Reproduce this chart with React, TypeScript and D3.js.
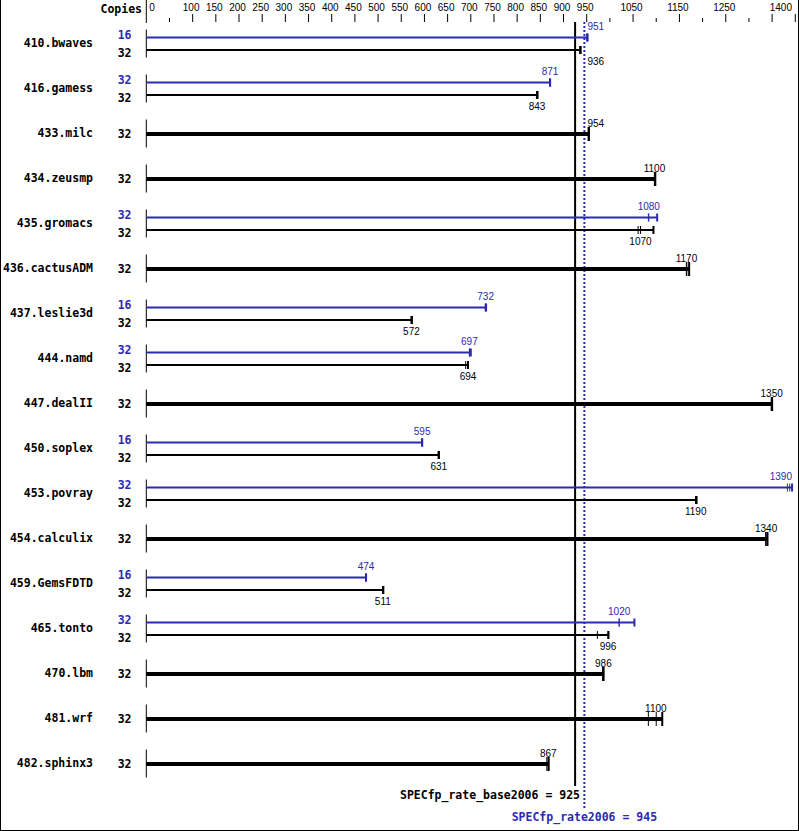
import React from "react";
import * as d3 from "d3";

const benchmarks = [
  "410.bwaves", "416.gamess", "433.milc", "434.zeusmp", "435.gromacs",
  "436.cactusADM", "437.leslie3d", "444.namd", "447.dealII", "450.soplex",
  "453.povray", "454.calculix", "459.GemsFDTD", "465.tonto", "470.lbm",
  "481.wrf", "482.sphinx3",
];

const peakCopies: (number | null)[] = [16, 32, null, null, 32, null, 16, 32, null, 16, 32, null, 16, 32, null, null, null];
const baseCopies: number[] = [32, 32, 32, 32, 32, 32, 32, 32, 32, 32, 32, 32, 32, 32, 32, 32, 32];

const peakRuns: (number[] | null)[] = [
  [950, 951, 952],
  [870, 871, 871],
  null,
  null,
  [1083, 1084, 1102],
  null,
  [731, 732, 733],
  [697, 697, 700],
  null,
  [594, 595, 595],
  [1383, 1388, 1393],
  null,
  [473, 474, 474],
  [1020, 1020, 1053],
  null,
  null,
  null,
];

const baseRuns: number[][] = [
  [935, 936, 937],
  [842, 843, 844],
  [953, 954, 955],
  [1096, 1097, 1098],
  [1061, 1066, 1094],
  [1165, 1166, 1171],
  [571, 572, 573],
  [689, 694, 694],
  [1348, 1349, 1350],
  [630, 631, 631],
  [1185, 1186, 1187],
  [1336, 1337, 1340],
  [510, 511, 511],
  [973, 996, 997],
  [985, 986, 986],
  [1083, 1100, 1113],
  [864, 867, 868],
];

const axisTicks = d3.range(0, 1401, 50);
const axisLabels = [0, 100, 150, 200, 250, 300, 350, 400, 450, 500, 550, 600, 650, 700, 750, 800, 850, 900, 950, 1050, 1150, 1250, 1400];
const longTicks = [...axisLabels, 1350];

const baseScore = 925;
const peakScore = 945;

const BLUE = "#2b2bb0";
const BOLD = "'DejaVu Sans Mono', monospace";
const THIN = "'Liberation Sans', Arial, sans-serif";

export default function App() {
  const W = 799, H = 831;
  const x = d3.scaleLinear().domain([0, 1400]).range([146.3, 795.3]);
  const y = d3.scalePoint<string>().domain(benchmarks).range([43.5, 763.5]);
  const fmt = d3.format(".3r");
  const charW = 5.56;
  const xBase = x(baseScore);
  const xPeak = x(peakScore);

  const placeLabel = (cx: number, txt: string) => {
    const w = txt.length * charW;
    let left = cx - w / 2;
    const right = left + w;
    if (left < xPeak + 3 && right > xBase - 2) left = xPeak + 3;
    if (left + w > 792) left = 792 - w;
    return left;
  };

  const drawBar = (
    key: string,
    runs: number[],
    ly: number,
    color: string,
    thick: boolean,
    labelAbove: boolean
  ) => {
    const sorted = [...runs].sort((a, b) => a - b);
    const med = d3.median(sorted) as number;
    const mx = d3.max(sorted) as number;
    const bw = thick ? 4 : 2;
    const th = thick ? 7 : 4;
    const txt = fmt(med);
    const lx = placeLabel(x(med), txt);
    return (
      <g key={key}>
        <line x1={x(0)} x2={x(mx)} y1={ly} y2={ly} stroke={color} strokeWidth={bw} />
        {sorted.map((v, j) => (
          <line
            key={j}
            x1={x(v)}
            x2={x(v)}
            y1={ly - th}
            y2={ly + th}
            stroke={color}
            strokeWidth={v === mx ? 2 : 1}
          />
        ))}
        <text
          x={lx}
          y={labelAbove ? ly - 7.5 : ly + 14.5}
          fill={color}
          fontFamily={THIN}
          fontSize={10}
        >
          {txt}
        </text>
      </g>
    );
  };

  return (
    <svg
      width={W}
      height={H}
      style={{ position: "absolute", left: 0, top: 0, background: "#fff" }}
    >
      <rect x={0} y={0} width={W} height={H} fill="#fff" />
      {/* border: left, right, bottom */}
      <line x1={0.5} x2={0.5} y1={0} y2={H} stroke="#000" strokeWidth={1} />
      <line x1={W - 0.5} x2={W - 0.5} y1={0} y2={H} stroke="#000" strokeWidth={1} />
      <line x1={0} x2={W} y1={H - 0.5} y2={H - 0.5} stroke="#000" strokeWidth={1} />

      {/* header */}
      <text x={142} y={13} textAnchor="end" fontFamily={BOLD} fontWeight="bold" fontSize={11.5} fill="#000">
        Copies
      </text>
      <line x1={x(0)} x2={x(0)} y1={0} y2={23} stroke="#000" strokeWidth={1} />
      {axisTicks.filter((t) => t > 0).map((t) => {
        const long = longTicks.includes(t);
        return (
          <line key={t} x1={x(t)} x2={x(t)} y1={long ? 14 : 18} y2={22} stroke="#000" strokeWidth={1} />
        );
      })}
      {axisLabels.map((t) => (
        <text
          key={t}
          x={t === 0 ? x(0) + 3 : t === 1400 ? 792 : x(t) - 1.5}
          y={11}
          textAnchor={t === 0 ? "start" : t === 1400 ? "end" : "middle"}
          fontFamily={THIN}
          fontSize={10}
          fill="#000"
        >
          {t}
        </text>
      ))}

      {/* reference lines */}
      <line x1={xBase} x2={xBase} y1={22} y2={786} stroke="#000" strokeWidth={2} />
      <line x1={xPeak} x2={xPeak} y1={22} y2={808} stroke={BLUE} strokeWidth={2} strokeDasharray="2,2" />
      <text x={580} y={799} textAnchor="end" fontFamily={BOLD} fontWeight="bold" fontSize={11.5} fill="#000">
        {`SPECfp_rate_base2006 = ${baseScore}`}
      </text>
      <text x={xPeak} y={821} textAnchor="middle" fontFamily={BOLD} fontWeight="bold" fontSize={11.5} fill={BLUE}>
        {`SPECfp_rate2006 = ${peakScore}`}
      </text>

      {/* rows */}
      {benchmarks.map((name, i) => {
        const c = y(name) as number;
        const pk = peakRuns[i];
        const hasPeak = pk !== null;
        const peakY = c - 6;
        const baseY = hasPeak ? c + 6.5 : c + 0.5;
        return (
          <g key={name}>
            <text x={93} y={c + 3.5} textAnchor="end" fontFamily={BOLD} fontWeight="bold" fontSize={11.5} fill="#000">
              {name}
            </text>
            <line x1={x(0)} x2={x(0)} y1={c - 14} y2={c + 14} stroke="#000" strokeWidth={1} />
            {hasPeak && (
              <text x={131.5} y={c - 4.5} textAnchor="end" fontFamily={BOLD} fontWeight="bold" fontSize={11.5} fill={BLUE}>
                {peakCopies[i]}
              </text>
            )}
            <text x={131.5} y={hasPeak ? c + 13 : c + 4} textAnchor="end" fontFamily={BOLD} fontWeight="bold" fontSize={11.5} fill="#000">
              {baseCopies[i]}
            </text>
            {hasPeak && drawBar("p", pk as number[], peakY, BLUE, false, true)}
            {drawBar("b", baseRuns[i], baseY, "#000", !hasPeak, !hasPeak)}
          </g>
        );
      })}
    </svg>
  );
}
